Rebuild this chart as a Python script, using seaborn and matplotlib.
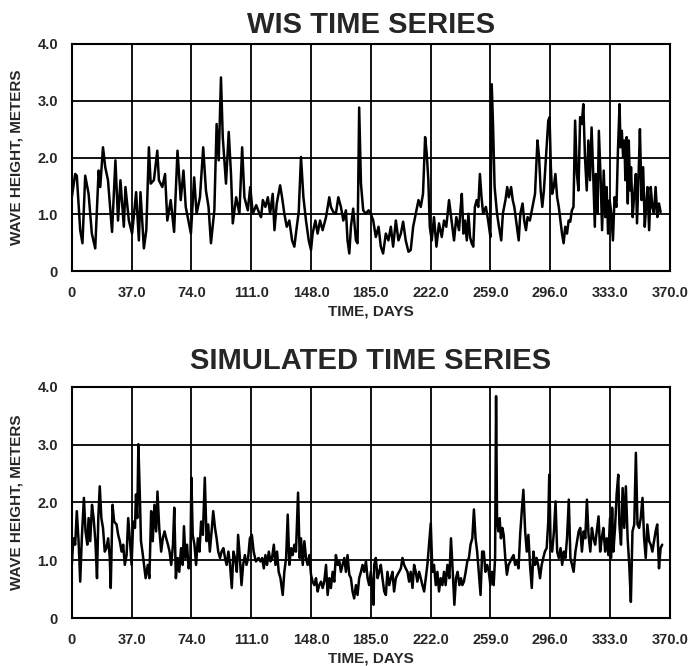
import matplotlib
matplotlib.use("Agg")
import matplotlib.pyplot as plt
import seaborn as sns
import pandas as pd

# ---------------- data ----------------
wis_days = [0, 2.1, 3.1, 5.2, 6.6, 8.3, 10.4, 12.4, 14.5, 16.6, 17.6, 19.3, 20.7, 22.4, 24.9, 27.0, 28.6, 30.1,
            32.2, 33.2, 35.3, 37.3, 39.8, 41.5, 42.5, 44.6, 46.1, 47.7, 48.8, 50.8, 52.9, 53.9, 56.0, 57.7, 59.1,
            61.2, 63.3, 65.4, 67.4, 69.1, 70.5, 73.7, 75.7, 77.2, 79.3, 81.3, 83.0, 84.6, 86.1, 88.2, 89.6, 90.9,
            92.3, 93.4, 95.4, 97.1, 98.5, 99.6, 101.7, 103.7, 105.4, 106.8, 108.9, 110.4, 112.0, 114.1,
            116.1, 117.1, 118.2, 119.8, 121.3, 122.7, 124.3, 125.4, 126.8, 128.9, 130.1, 131.5, 133.0, 134.6,
            136.3, 137.7, 139.2, 140.4, 141.8, 143.3, 144.9, 146.6, 148.0, 149.0, 150.7, 152.1, 153.6, 155.2,
            157.3, 159.3, 160.3, 161.8, 163.4, 164.9, 166.5, 168.0, 169.6, 170.6, 171.7, 172.7, 174.1, 175.8,
            176.8, 177.8, 178.9, 180.3, 181.9, 183.6, 185.0, 186.5, 188.1, 189.8, 191.2, 192.6, 194.3, 195.9,
            197.4, 198.8, 200.5, 202.1, 203.6, 205.0, 206.6, 208.3, 209.7, 211.2, 212.8, 214.5, 215.9, 217.3,
            218.6, 219.6, 220.6, 221.5, 222.7, 224.1, 225.6, 227.2, 228.9, 230.3, 231.7, 233.4, 235.0, 236.5,
            237.9, 239.6,
            240.3, 241.3, 242.3, 243.3, 244.4, 245.4, 246.4, 247.4, 248.4, 249.4, 250.5, 251.5, 252.5, 253.5,
            254.5, 256.2, 257.6, 259.0, 259.8, 260.6, 261.6, 263.1, 264.3, 265.7, 266.7, 268.3, 269.4, 270.4,
            271.8, 272.8, 273.8, 274.9, 276.5, 277.5, 278.9, 279.9, 281.0, 282.0, 283.4, 285.0, 286.6, 288.1,
            289.1, 290.1, 291.1, 292.1, 293.6, 294.8, 295.6, 296.4, 297.2, 298.2, 299.2, 300.3, 301.3, 302.3,
            303.3, 304.3, 305.3, 306.4, 307.4, 308.4, 309.4, 310.4, 311.4, 312.5, 313.5, 314.5, 315.5, 316.5,
            317.5, 318.6, 319.6, 320.6, 321.6, 322.6, 323.6, 324.2, 325.3, 326.1, 327.3, 328.1, 329.1, 330.1,
            330.9, 331.8, 332.8, 333.8, 334.8, 335.8, 337.0, 337.9, 338.9, 339.5, 340.3, 341.1, 341.9, 342.5,
            343.3, 344.0, 344.6, 345.4, 346.0, 347.0, 348.0, 349.0, 349.7, 350.7, 351.5, 352.5, 353.5, 354.5,
            355.3, 356.2, 357.2, 358.2, 359.2, 360.2, 361.2, 362.3, 363.3, 364.3]
wis_height = [1.30, 1.71, 1.68, 0.72, 0.49, 1.68, 1.36, 0.66, 0.40, 1.77, 1.48, 2.18, 1.83, 1.60, 0.69, 1.95, 0.89, 1.60,
              0.78, 1.48, 0.89, 0.66, 1.39, 0.54, 1.39, 0.40, 0.72, 2.18, 1.54, 1.60, 2.12, 1.60, 1.48, 1.71, 0.89,
              1.25, 0.69, 2.12, 1.25, 1.77, 1.13, 0.66, 1.65, 1.01, 1.30, 2.18, 1.42, 1.13, 0.49, 1.07, 2.59, 1.95,
              3.41, 2.36, 1.54, 2.45, 1.71, 0.84, 1.30, 1.01, 2.18, 1.30, 1.07, 1.48, 1.01, 1.16,
              1.01, 0.95, 1.25, 1.13, 1.30, 1.01, 1.36, 0.72, 1.19, 1.51, 1.30, 1.01, 0.78, 0.89,
              0.54, 0.43, 0.78, 1.04, 2.01, 1.30, 0.89, 0.54, 0.37, 0.66, 0.89, 0.66, 0.89, 0.72,
              0.95, 1.30, 1.13, 1.04, 1.01, 1.30, 1.13, 0.89, 1.07, 0.54, 0.31, 0.78, 1.10, 0.54,
              0.49, 2.88, 1.54, 1.07, 1.01, 1.07, 1.01, 0.89, 0.60, 0.78, 0.43, 0.31, 0.66, 0.54,
              0.78, 0.43, 0.89, 0.54, 0.66, 0.87, 0.54, 0.34, 0.37, 0.78, 1.01, 1.25, 1.13, 1.36,
              2.36, 2.07, 1.60, 0.78, 0.54, 0.95, 0.43, 0.84, 0.60, 0.89, 0.78, 1.25, 0.89, 0.54,
              0.95, 0.72,
              1.01, 1.36, 0.66, 0.89, 0.54, 1.01, 0.60, 0.49, 0.43, 1.13, 1.25, 1.13, 1.71, 1.30,
              1.01, 1.13, 0.89, 0.60, 3.29, 2.59, 1.48, 1.01, 0.78, 0.54, 1.01, 1.25, 1.48, 1.30,
              1.48, 1.25, 1.13, 0.89, 0.54, 1.01, 1.19, 0.89, 0.72, 0.95, 0.89, 1.13, 1.36, 2.30,
              2.01, 1.42, 1.13, 1.42, 2.12, 2.65, 2.71, 1.83, 1.36, 1.48, 1.71, 1.30, 1.13, 0.89,
              0.66, 0.49, 0.78, 0.66, 0.89, 0.87, 1.07, 1.13, 2.65, 1.71, 1.42, 2.71, 2.59, 2.94,
              2.01, 1.42, 2.30, 1.60, 2.53, 1.71, 0.78, 1.71, 1.01, 2.47, 1.54, 0.72, 1.77, 0.95,
              1.48, 0.66, 1.25, 1.01, 0.54, 1.30, 1.13, 2.12, 2.94, 2.18, 2.47, 2.01, 2.30, 1.60,
              2.36, 1.19, 2.30, 1.42, 1.83, 0.95, 1.36, 1.71, 0.84, 1.71, 2.50, 1.25, 1.83, 0.78,
              1.13, 1.48, 0.72, 1.48, 1.13, 1.01, 1.48, 0.95, 1.19, 1.04]

sim_days = [0, 1.0, 2.1, 3.1, 4.2, 5.2, 6.2, 7.5, 8.5, 9.6, 10.4, 11.4, 12.5, 13.5, 14.6, 15.6, 16.4, 17.3, 18.3,
            19.3, 20.4, 21.4, 22.5, 23.5, 24.1, 25.2, 26.2, 27.7, 28.7, 29.7, 30.8, 31.8, 32.8, 33.9, 34.9, 36.0,
            37.0, 38.0, 39.1, 39.7, 40.5, 41.2, 42.2, 42.8, 43.7, 44.7, 45.7, 47.0, 48.0, 49.1, 50.1, 51.1, 52.2,
            53.0, 54.1, 55.3, 56.3, 57.4, 58.4, 59.5, 60.5, 61.5, 62.6, 63.4, 64.4, 65.5, 66.5, 67.6, 68.6, 69.4,
            70.3, 71.3, 72.3, 73.4, 74.0, 74.8, 75.9, 76.9, 78.0, 79.0, 80.0, 81.1, 82.3, 83.4, 84.4, 85.4, 86.5,
            87.5, 88.6, 89.6, 90.6, 91.7, 92.7, 93.8, 94.8, 95.8, 96.9, 97.9, 99.0, 100.0, 101.0, 102.1, 102.9,
            104.0, 105.0, 106.0, 107.1, 108.1, 109.1, 110.2, 111.4, 112.5, 113.9, 115.6,
            116.7, 117.8, 118.8, 119.8, 120.8, 121.9, 122.9, 123.9, 125.0, 126.0, 127.0, 128.0, 129.1, 130.5,
            131.5, 132.6, 133.6, 134.6, 135.7, 136.7, 137.7, 138.7, 140.0, 141.0, 141.8, 142.9, 143.9, 144.9,
            145.9, 147.0, 148.0, 149.0, 150.1, 151.1, 152.1, 153.1, 154.2, 155.2, 156.2, 157.3, 158.3, 159.3,
            160.3, 161.4, 162.4, 163.4, 164.5, 165.5, 166.5, 167.5, 168.6, 169.6, 170.6, 171.7, 172.7, 173.7,
            174.7, 175.8, 176.8, 177.8, 178.9, 179.9, 180.9, 182.0, 183.0, 184.0, 185.0, 186.1, 186.7, 187.1,
            188.1, 189.2, 190.2, 191.2, 192.2, 193.3, 194.3, 195.3, 196.4, 197.4, 198.4, 199.4, 200.5, 201.5,
            202.5, 203.6, 204.6, 205.6, 206.6, 207.7, 208.7, 209.7, 210.8, 211.8, 212.8, 213.8, 214.9, 215.9,
            216.9, 218.0, 219.0, 220.0, 221.0, 222.1, 223.1, 224.1, 225.2, 226.2, 227.2, 228.2, 229.3, 230.3,
            231.3, 232.4, 233.6, 234.6, 235.7, 236.7, 237.7, 238.7, 239.8,
            240.8, 241.6, 242.6, 243.7, 244.7, 245.7, 246.7, 247.8, 248.8, 249.8, 250.8, 251.8, 252.9, 253.9,
            254.9, 255.9, 257.0, 258.0, 259.0, 260.0, 261.0, 261.9, 262.5, 263.1, 263.9, 264.7, 265.5, 266.4,
            267.2, 268.2, 269.2, 270.2, 271.3, 272.3, 273.3, 274.3, 275.4, 276.4, 277.4, 278.4, 279.4, 280.5,
            281.5, 282.5, 283.5, 284.6, 285.6, 286.6, 287.6, 288.7, 289.7, 290.7, 291.7, 292.7, 293.8, 294.8,
            295.4, 296.2, 297.2, 298.3, 299.3, 300.3, 301.3, 302.4, 303.4, 304.4, 305.4, 306.4, 307.5, 308.5,
            309.5, 310.5, 311.6, 312.6, 313.6, 314.6, 315.6, 316.7, 317.7, 318.7, 319.7, 320.8, 321.8, 322.8,
            323.8, 324.8, 325.9, 326.9, 327.9, 328.9, 330.0, 331.0, 332.0, 333.0, 333.6, 334.3, 335.1, 336.1,
            337.1, 338.1, 338.8, 339.8, 340.8, 341.8, 342.8, 343.9, 344.9, 345.9, 346.9, 348.0, 349.0, 350.0,
            351.0, 352.0, 353.1, 354.1, 355.1, 356.1, 357.2, 358.2, 359.2, 360.2, 361.2, 362.2, 363.3, 364.3,
            365.3]
sim_height = [0.92, 1.38, 1.27, 1.85, 1.33, 0.63, 1.38, 2.08, 1.50, 1.27, 1.73, 1.33, 1.96, 1.73, 1.33, 0.69, 1.73, 2.28, 1.73,
              1.56, 1.15, 1.21, 1.38, 1.04, 0.52, 1.96, 1.67, 1.62, 1.44, 1.33, 1.15, 1.27, 0.92, 1.09, 1.73, 1.33,
              0.92, 1.67, 1.56, 2.14, 1.73, 3.01, 2.02, 1.33, 1.15, 0.92, 0.69, 0.92, 0.69, 1.85, 1.33, 1.96,
              1.50, 2.19, 1.56, 1.15, 1.38, 1.50, 1.38, 1.27, 1.15, 0.92, 1.27, 1.91, 0.69, 1.04, 0.80, 1.21,
              0.92, 1.59, 1.04, 1.27, 0.86, 1.04, 2.43, 1.44, 1.27, 0.92, 1.38, 1.15, 1.67, 1.44, 2.43, 1.33, 1.62,
              1.15, 1.50, 1.85, 1.56, 1.38, 1.15, 1.04, 1.15, 1.21, 1.04, 0.92, 1.15, 0.92, 0.52, 1.15, 1.04, 0.80,
              1.44, 1.04, 0.57, 0.92, 1.09, 0.92, 1.04, 1.38, 1.44, 1.15, 0.98, 1.04,
              0.98, 1.04, 0.86, 1.09, 0.92, 1.15, 0.98, 1.04, 1.27, 0.92, 1.15, 0.80, 0.69, 0.40,
              0.80, 1.04, 1.79, 0.92, 1.21, 1.09, 1.27, 1.15, 2.17, 1.04, 1.38, 0.92, 1.33, 1.04,
              0.92, 1.09, 0.75, 0.63, 0.57, 0.69, 0.46, 0.57, 0.63, 0.52, 0.63, 0.92, 0.40, 0.69,
              0.52, 0.80, 0.63, 1.09, 0.92, 0.98, 0.80, 0.92, 1.04, 0.80, 1.09, 0.75, 0.69, 0.46,
              0.34, 0.57, 0.40, 0.69, 0.80, 0.92, 0.80, 0.98, 0.69, 0.57, 0.80, 0.46, 0.23, 0.92,
              1.04, 0.69, 0.80, 0.92, 0.69, 0.46, 0.40, 0.80, 0.57, 0.69, 0.80, 0.46, 0.69, 0.75,
              0.80, 0.86, 1.04, 0.92, 0.86, 0.80, 0.63, 0.80, 0.52, 0.92, 0.80, 0.63, 0.80, 0.69,
              0.57, 0.46, 0.69, 0.92, 1.27, 1.64, 0.80, 0.92, 0.57, 0.80, 0.46, 0.69, 0.57, 0.80,
              0.57, 0.92, 0.69, 1.38, 0.80, 0.23, 0.69, 0.80, 0.57,
              0.69, 0.57, 0.63, 0.80, 0.98, 1.04, 1.27, 1.38, 1.88, 1.38, 1.15, 0.80, 0.40, 1.15,
              1.15, 0.80, 0.92, 0.80, 0.57, 0.80, 0.57, 1.04, 3.84, 1.73, 1.50, 1.73, 1.38, 1.56,
              1.44, 1.04, 0.75, 0.92, 0.98, 1.04, 1.09, 0.92, 0.98, 0.86, 1.44, 1.85, 2.22, 1.50,
              1.15, 1.44, 0.92, 0.52, 1.15, 0.92, 1.04, 0.89, 0.69, 0.92, 1.04, 1.15, 1.21, 1.67,
              2.48, 1.33, 1.15, 1.50, 2.02, 1.15, 1.04, 1.21, 0.92, 1.15, 1.04, 1.38, 2.05, 1.04,
              0.92, 0.80, 1.15, 1.33, 1.50, 1.56, 1.15, 1.50, 1.38, 2.05, 1.44, 1.15, 1.56, 1.38,
              1.27, 1.50, 1.76, 1.15, 1.38, 1.56, 1.15, 1.38, 1.09, 1.73, 1.04, 1.91, 1.15, 1.56,
              2.14, 2.48, 1.62, 1.27, 2.25, 1.56, 2.28, 1.38, 0.92, 0.28, 1.50, 1.62, 2.86, 1.62,
              1.56, 1.73, 2.08, 1.38, 1.04, 1.62, 1.33, 1.27, 1.15, 1.33, 1.50, 1.62, 0.86, 1.21,
              1.27]

panel_titles = ["WIS TIME SERIES", "SIMULATED TIME SERIES"]
x_ticks = [0, 37, 74, 111, 148, 185, 222, 259, 296, 333, 370]
x_ticklabels = ["0", "37.0", "74.0", "111.0", "148.0", "185.0", "222.0", "259.0", "296.0", "333.0", "370.0"]
y_ticks = [0, 1, 2, 3, 4]
y_ticklabels = ["0", "1.0", "2.0", "3.0", "4.0"]

# ---------------- drawing ----------------
sns.set_style("white")
plt.rcParams["font.family"] = ["Liberation Sans", "DejaVu Sans"]

fig = plt.figure(figsize=(6.97, 6.66), dpi=100)
ax_top = fig.add_axes([0.103, 0.593, 0.858, 0.341])
ax_bot = fig.add_axes([0.103, 0.072, 0.858, 0.347])

series = [(wis_days, wis_height), (sim_days, sim_height)]
title_pads = [8, 13]
for ax, (d, h), title, tpad in zip([ax_top, ax_bot], series, panel_titles, title_pads):
    df = pd.DataFrame({"day": d, "height": h})
    sns.lineplot(data=df, x="day", y="height", ax=ax, color="black",
                 linewidth=1.8, estimator=None, sort=False)
    ax.set_xlim(0, 370)
    ax.set_ylim(0, 4)
    ax.set_xticks(x_ticks)
    ax.set_xticklabels(x_ticklabels, fontsize=10.5, fontweight="bold")
    ax.set_yticks(y_ticks)
    ax.set_yticklabels(y_ticklabels, fontsize=10.5, fontweight="bold")
    ax.grid(True, color="black", linewidth=1.3)
    ax.set_axisbelow(True)
    for s in ax.spines.values():
        s.set_color("black")
        s.set_linewidth(1.5)
    ax.tick_params(axis="x", direction="out", length=5, width=1.3, color="black", pad=6)
    ax.tick_params(axis="y", direction="out", length=5, width=1.3, color="black", pad=5)
    ax.set_xlabel("TIME, DAYS", fontsize=11, fontweight="bold", labelpad=3)
    ax.set_ylabel("WAVE HEIGHT, METERS", fontsize=11, fontweight="bold", labelpad=10)
    ax.set_title(title, fontsize=21, fontweight="bold", pad=tpad)

fig.savefig("out.png", dpi=100)
